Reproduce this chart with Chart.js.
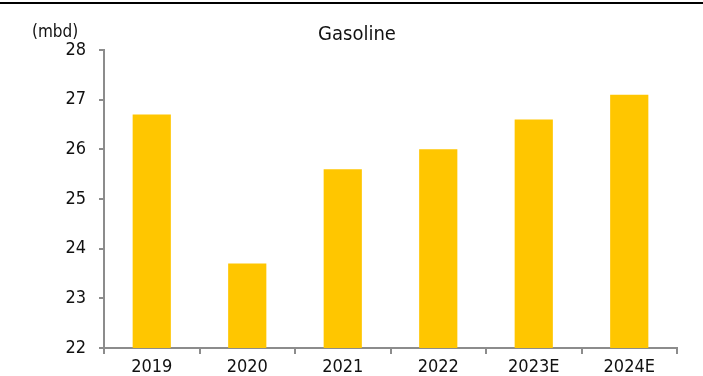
<!DOCTYPE html>
<html>
<head>
<meta charset="utf-8">
<script src="https://cdn.jsdelivr.net/npm/chart.js@4.4.0/dist/chart.umd.min.js"></script>
<style>
  html, body { margin: 0; padding: 0; background: #fff; }
  #wrap { position: relative; width: 703px; height: 376px; }
</style>
</head>
<body>
<div id="wrap"><canvas id="myChart" width="703" height="376"></canvas></div>
<script>
var years = ["2019", "2020", "2021", "2022", "2023E", "2024E"];
var gasoline = [26.7, 23.7, 25.6, 26.0, 26.6, 27.1];
var yTicks = [22, 23, 24, 25, 26, 27, 28];

var fontFamily = "'DejaVu Sans Condensed', 'DejaVu Sans', sans-serif";
var axisGrey = "#8c8c8c";

// black rule across the top, chart title and the unit label above the y axis
var extras = {
    id: "extras",
    afterDraw: function (chart) {
        var ctx = chart.ctx;
        ctx.save();
        ctx.fillStyle = "#000";
        ctx.fillRect(0, 2, chart.width, 2);
        ctx.fillStyle = "#111";
        ctx.textBaseline = "middle";
        ctx.font = "17px " + fontFamily;
        ctx.textAlign = "left";
        ctx.fillText("(mbd)", 32, 33);
        ctx.font = "20px " + fontFamily;
        ctx.textAlign = "center";
        ctx.fillText("Gasoline", 357, 35);
        ctx.restore();
    }
};

new Chart("myChart", {
    type: "bar",
    data: {
        labels: years,
        datasets: [{
            data: gasoline,
            backgroundColor: "#ffc600",
            barPercentage: 0.4,
            categoryPercentage: 1.0
        }]
    },
    options: {
        responsive: false,
        animation: false,
        layout: { padding: { left: 0, right: 26, top: 50, bottom: 0 } },
        plugins: {
            legend: { display: false },
            tooltip: { enabled: false }
        },
        scales: {
            x: {
                afterFit: function (axis) { axis.height = 28; },
                grid: { display: true, drawOnChartArea: false, offset: true, color: axisGrey, tickLength: 6, lineWidth: 2 },
                border: { color: axisGrey, width: 2 },
                ticks: { color: "#111", font: { family: fontFamily, size: 18 }, padding: 3, maxRotation: 0 }
            },
            y: {
                min: 22,
                max: 28,
                afterBuildTicks: function (axis) {
                    axis.ticks = yTicks.map(function (v) { return { value: v }; });
                },
                afterFit: function (axis) { axis.width = 104; },
                grid: { display: true, drawOnChartArea: false, color: axisGrey, tickLength: 5, lineWidth: 2 },
                border: { color: axisGrey, width: 2 },
                ticks: { color: "#111", font: { family: fontFamily, size: 18 }, padding: 13 }
            }
        }
    },
    plugins: [extras]
});
</script>
</body>
</html>
